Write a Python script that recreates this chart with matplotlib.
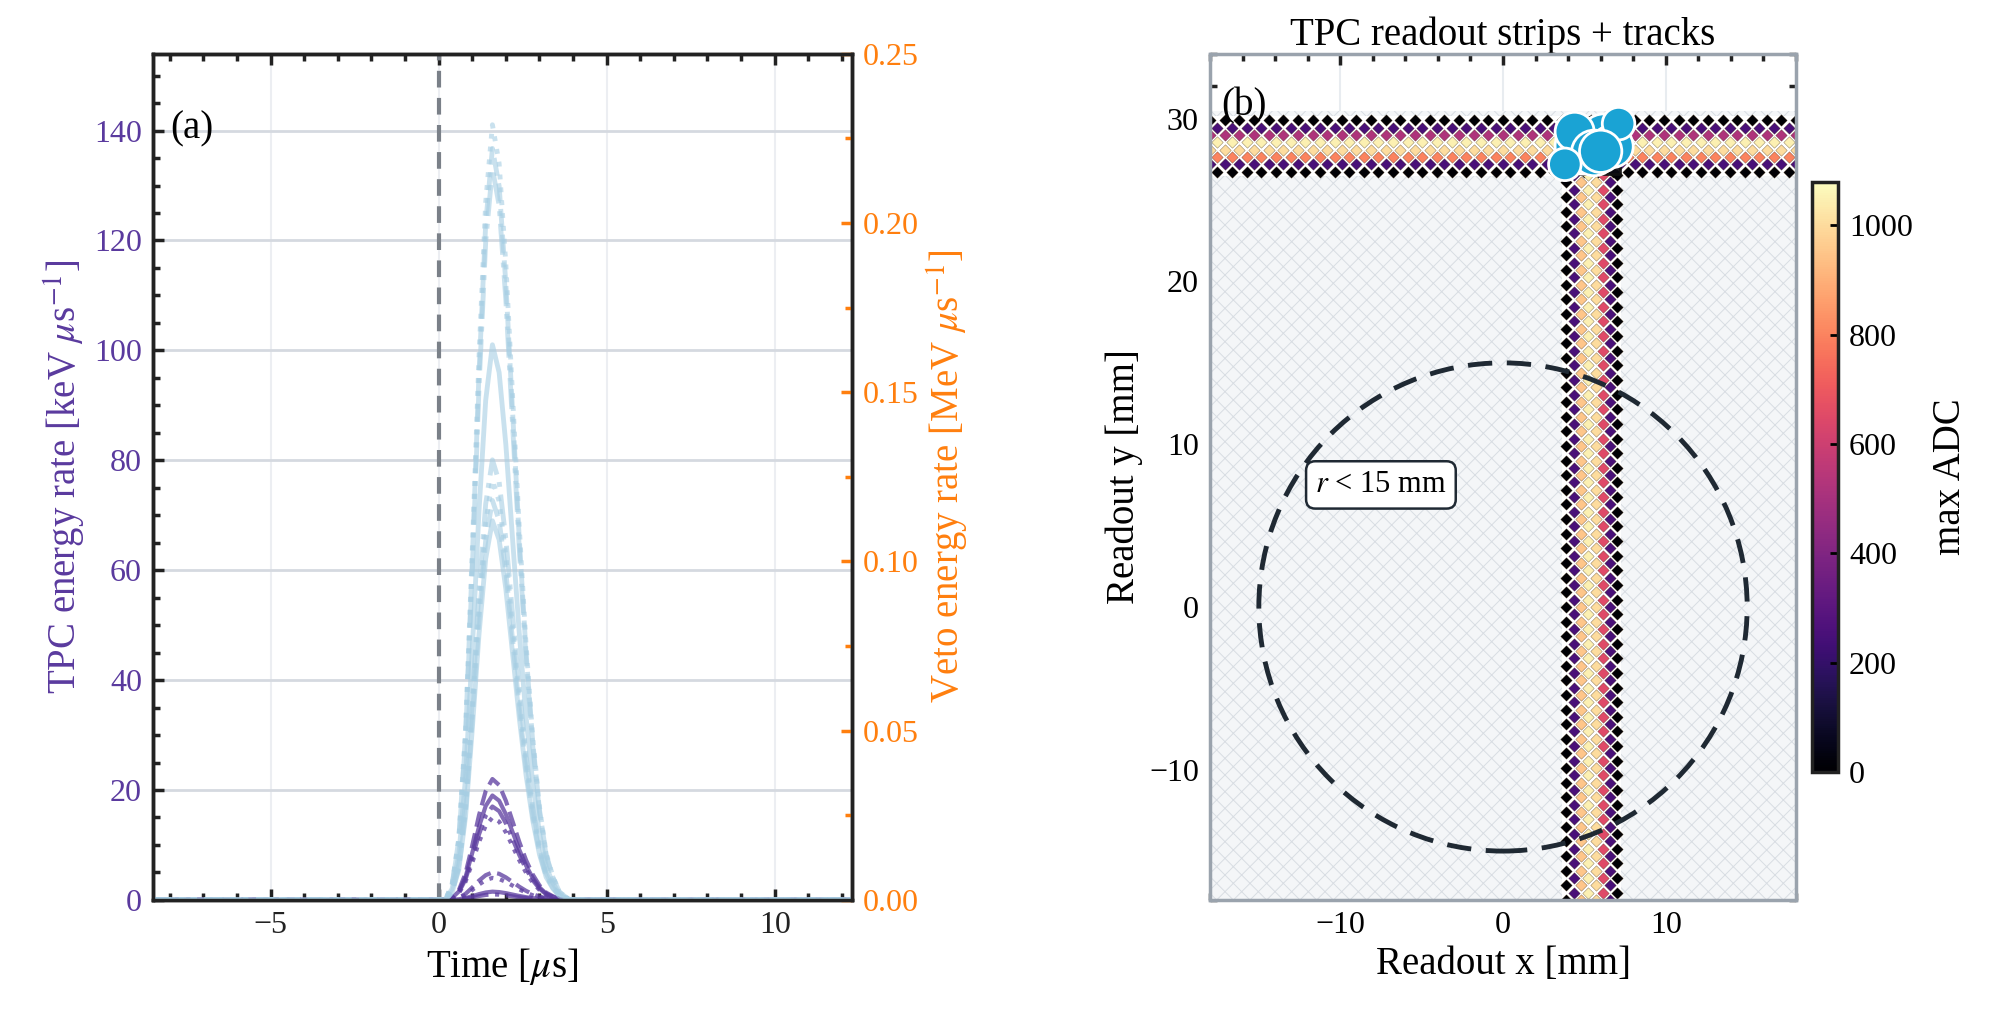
import numpy as np
import matplotlib
matplotlib.use("Agg")
import matplotlib.pyplot as plt
from matplotlib.patches import Rectangle, Circle
from matplotlib.ticker import MultipleLocator, AutoMinorLocator

plt.rcParams['font.family'] = ['Liberation Serif', 'DejaVu Serif']
plt.rcParams['mathtext.fontset'] = 'stix'
plt.rcParams['hatch.linewidth'] = 0.7

# ---- data ----
pulse_t = [-8.5, 0.2, 0.4, 0.6, 0.8, 1.0, 1.2, 1.4, 1.6, 1.8, 2.0, 2.2, 2.4, 2.6, 2.8,
           3.0, 3.2, 3.4, 3.6, 3.9, 12.3]
pulse_shape = [0, 0, 0.02, 0.08, 0.22, 0.45, 0.7, 0.9, 1.0, 0.95, 0.82, 0.65, 0.48,
               0.33, 0.21, 0.12, 0.06, 0.03, 0.01, 0, 0]
veto_peaks = [0.229, 0.222, 0.216, 0.164, 0.130, 0.124, 0.118, 0.112]   # MeV/us
veto_styles = [':', '--', '-.', '-', '-.', ':', '--', '-']
tpc_peaks = [22, 19, 17, 15, 5, 4, 1.5, 1.0]   # keV/us
tpc_styles = ['--', '-', '-.', ':', '--', ':', '-', '-.']

hstrip_rows_y = [29.9, 29.45, 29.0, 28.55, 28.1, 27.65, 27.2, 26.75]
hstrip_vals = [0, 250, 520, 1050, 1000, 800, 250, 0]
vstrip_cols_x = [3.9, 4.35, 4.8, 5.25, 5.7, 6.15, 6.6, 7.0]
vstrip_vals = [0, 250, 950, 1050, 1000, 650, 250, 0]
blob_x = [4.9, 6.2, 6.7, 7.1, 4.4, 5.6, 6.0, 3.8]
blob_y = [28.3, 28.8, 28.3, 29.7, 29.2, 27.9, 28.0, 27.2]
blob_r = [1.7, 1.5, 1.3, 1.0, 1.2, 1.4, 1.3, 1.0]

purple = '#5a3a9e'
orange = '#ff7f0e'
TS = 23
LS = 28

fig = plt.figure(figsize=(20, 10.32), dpi=100)

# ---- panel (a) ----
ax = fig.add_axes([0.0765, 0.128, 0.3495, 0.82])
ax2 = ax.twinx()
ax.set_xlim(-8.5, 12.3)
ax.set_ylim(0, 154)
ax2.set_ylim(0, 0.25)
ax.yaxis.set_major_locator(MultipleLocator(20))
ax.grid(True, axis='y', color='#d5d9e0', lw=2)
ax.grid(True, axis='x', color='#eceef2', lw=1.5)
ax.set_axisbelow(True)
ax.axvline(0, color='#7a8088', lw=3, ls=(0, (4, 2.5)), zorder=2)

t = np.array(pulse_t)
s = np.array(pulse_shape)
for pk, ls in zip(veto_peaks, veto_styles):
    ax2.plot(t, pk * s, color='#a6cee3', lw=3.5, ls=ls, alpha=0.6)
for pk, ls in zip(tpc_peaks, tpc_styles):
    ax.plot(t, pk * s, color=purple, lw=3, ls=ls, alpha=0.75, zorder=3)

ax.set_xlabel(r'Time [$\mu$s]', fontsize=LS)
ax.set_ylabel(r'TPC energy rate [keV $\mu$s$^{-1}$]', fontsize=LS, color=purple)
ax2.set_ylabel(r'Veto energy rate [MeV $\mu$s$^{-1}$]', fontsize=LS, color=orange)
ax.tick_params(axis='y', colors=purple, labelsize=TS)
ax.tick_params(axis='x', labelsize=TS, colors='#222')
ax.tick_params(which='both', direction='in', top=True, width=2.5, color='#222', pad=8)
ax.tick_params(which='major', length=8)
ax.tick_params(which='minor', length=5)
ax.xaxis.set_minor_locator(AutoMinorLocator(5))
ax.yaxis.set_minor_locator(AutoMinorLocator(4))
ax2.tick_params(axis='y', which='both', direction='in', colors=orange, labelsize=TS, width=2.5, pad=8)
ax2.tick_params(which='major', length=8)
ax2.tick_params(which='minor', length=5)
ax2.yaxis.set_minor_locator(AutoMinorLocator(2))
for a in (ax, ax2):
    for sp in a.spines.values():
        sp.set_linewidth(2.5)
        sp.set_color('#222')
ax.text(0.025, 0.9, '(a)', transform=ax.transAxes, fontsize=LS)

# ---- panel (b) ----
bx = fig.add_axes([0.605, 0.128, 0.293, 0.82])
bx.set_xlim(-18, 18)
bx.set_ylim(-18, 34)
bx.grid(True, color='#e8ecf0', lw=1.5)
bx.set_axisbelow(True)
bx.add_patch(Rectangle((-18, -18), 36, 48.5, facecolor='#f4f6f8', edgecolor='#d8dde3',
                       hatch='xx', lw=0, zorder=1))

cmap = plt.get_cmap('magma')
norm = plt.Normalize(0, 1080)
bx.add_patch(Rectangle((-18, 26.5), 36, 3.65, facecolor='white', lw=0, zorder=2))
xs_h = np.arange(-18, 18.01, 0.45)
for j, (yy, v) in enumerate(zip(hstrip_rows_y, hstrip_vals)):
    xx = xs_h[(j % 2)::2]
    bx.scatter(xx, np.full_like(xx, yy), marker='D', s=34, color=cmap(norm(v)),
               edgecolors='#3a2000', linewidths=0.2, zorder=3)
bx.add_patch(Rectangle((3.65, -18), 3.6, 44.5, facecolor='white', lw=0, zorder=2))
ys_v = np.arange(-18, 26.6, 0.45)
for i, (xx0, v) in enumerate(zip(vstrip_cols_x, vstrip_vals)):
    yy = ys_v[(i % 2)::2]
    bx.scatter(np.full_like(yy, xx0), yy, marker='D', s=34, color=cmap(norm(v)),
               edgecolors='#3a2000', linewidths=0.2, zorder=3)
bx.add_patch(Rectangle((3.7, 26.6), 3.5, 3.5, facecolor='#0b0b12', edgecolor='#111', lw=2, zorder=4, alpha=0.9))
for xb, yb, rb in zip(blob_x, blob_y, blob_r):
    bx.add_patch(Circle((xb, yb), rb, facecolor='#1aa3d4', edgecolor='white', lw=2, zorder=5))

bx.add_patch(Circle((0, 0), 15, fill=False, edgecolor='#1f2933', lw=3.5,
                    ls=(0, (5, 3)), zorder=6))
bx.text(-7.5, 7.5, r'$r$ < 15 mm', fontsize=TS - 1, zorder=7, ha='center', va='center',
        bbox=dict(boxstyle='round,pad=0.3', fc='white', ec='#1f2933', lw=1.8))
bx.text(-17.3, 30.2, '(b)', fontsize=LS, zorder=8)
bx.set_xticks([-10, 0, 10])
bx.set_yticks([-10, 0, 10, 20, 30])
bx.xaxis.set_minor_locator(AutoMinorLocator(5))
bx.yaxis.set_minor_locator(AutoMinorLocator(5))
bx.tick_params(which='both', direction='in', top=True, right=True, width=2.5,
               color='#222', labelsize=TS, pad=8)
bx.tick_params(which='major', length=8)
bx.tick_params(which='minor', length=5)
for sp in bx.spines.values():
    sp.set_linewidth(2.5)
    sp.set_color('#9aa3ad')
    sp.set_zorder(10)
bx.set_xlabel('Readout x [mm]', fontsize=LS)
bx.set_ylabel('Readout y [mm]', fontsize=LS)
bx.set_title('TPC readout strips + tracks', fontsize=LS, pad=6)

cax = fig.add_axes([0.906, 0.252, 0.013, 0.572])
sm = plt.cm.ScalarMappable(cmap=cmap, norm=norm)
cb = fig.colorbar(sm, cax=cax)
cb.set_ticks([0, 200, 400, 600, 800, 1000])
cb.ax.tick_params(labelsize=TS, direction='in', width=2, length=6, pad=8)
cb.outline.set_linewidth(2.5)
cb.outline.set_edgecolor('#222')
cb.set_label('max ADC', fontsize=LS, labelpad=14)

fig.savefig('out.png', dpi=100)
